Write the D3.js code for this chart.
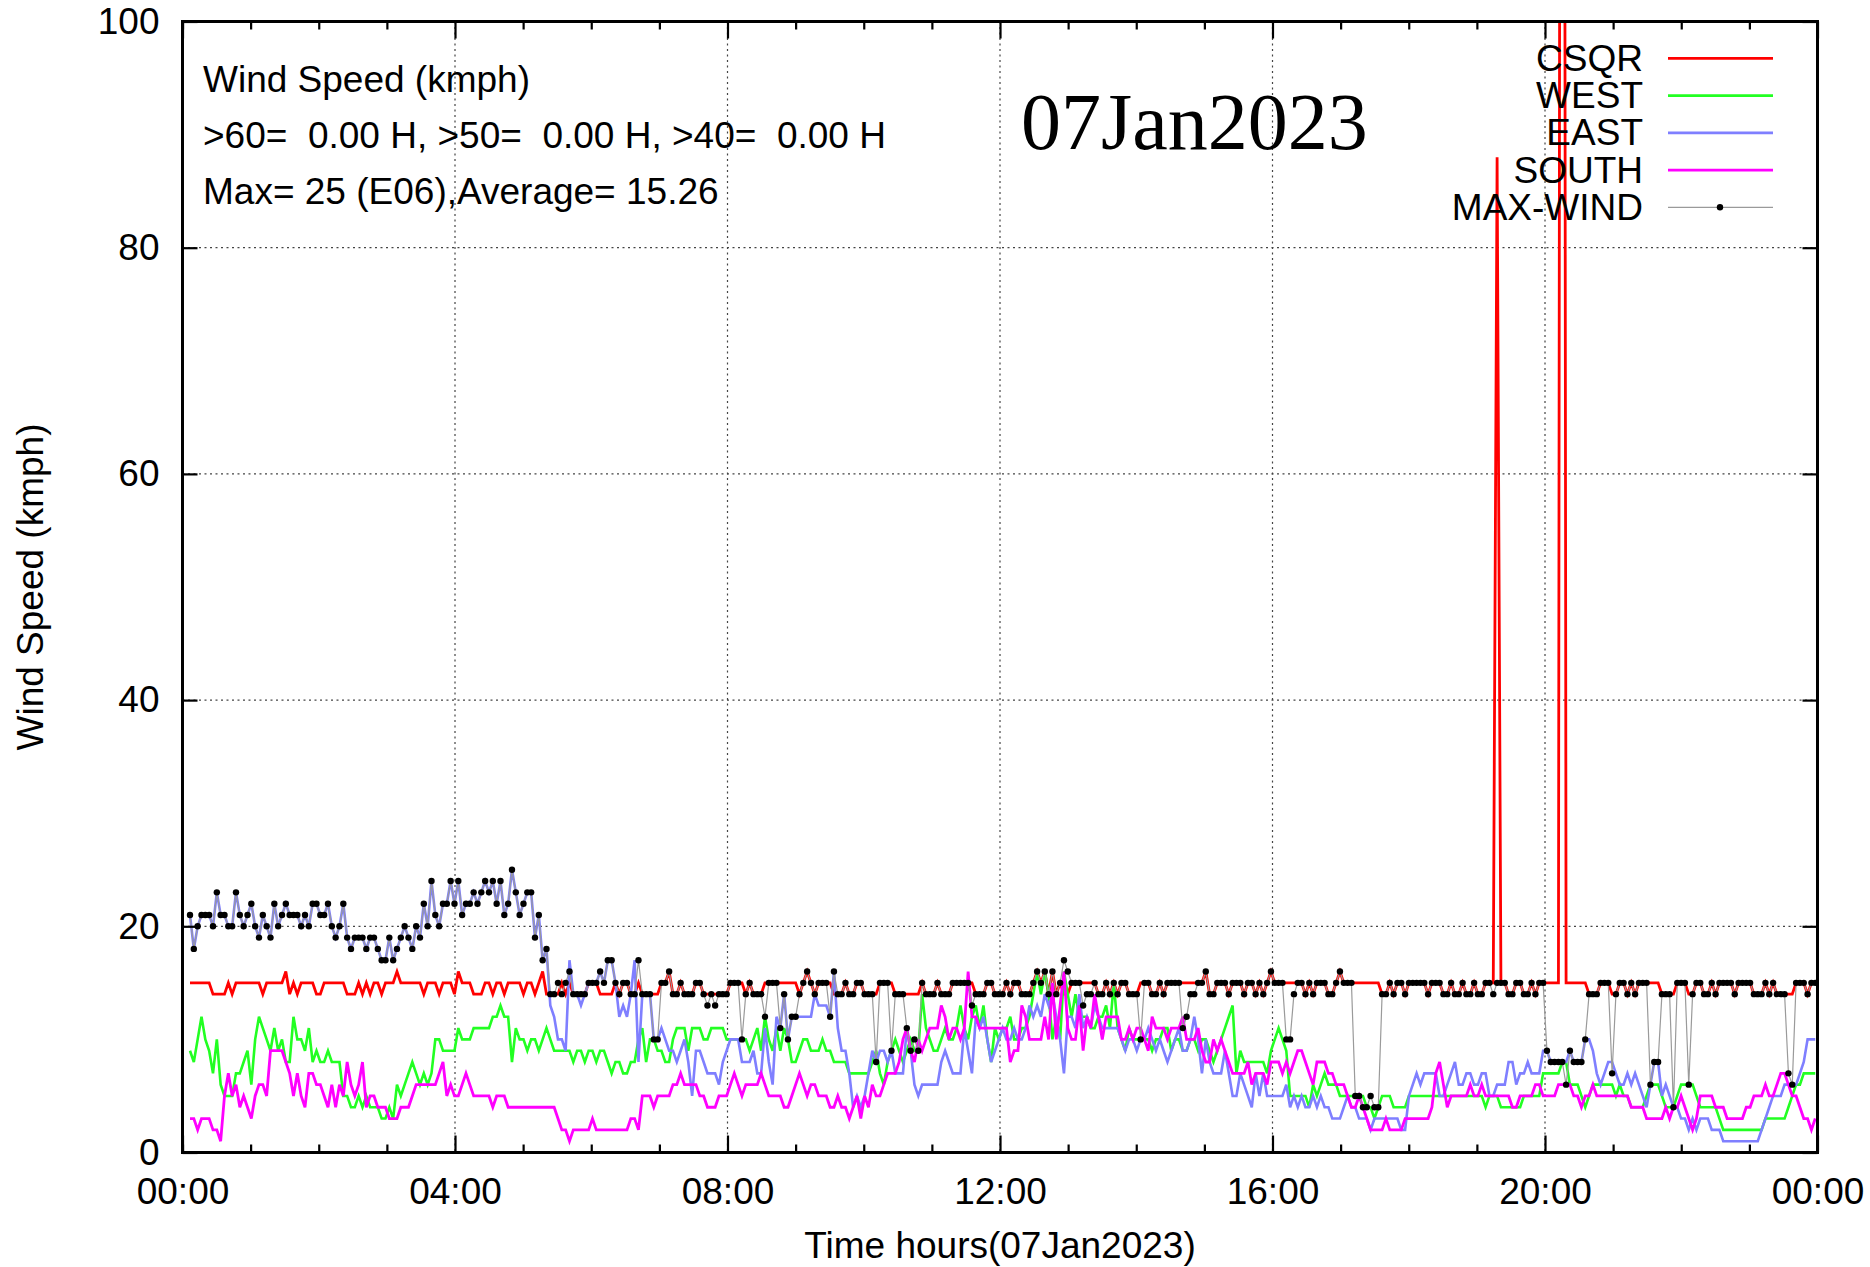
<!DOCTYPE html>
<html>
<head>
<meta charset="utf-8">
<title>Wind Speed 07Jan2023</title>
<script src="https://cdn.jsdelivr.net/npm/d3@7"></script>
<style>
    html, body { margin: 0; padding: 0; background: #fff; }
    svg { display: block; }
    text { font-family: 'Liberation Sans', Arial, Helvetica, sans-serif; fill: #000; }
</style>
</head>
<body>
<svg id="chart"></svg>
<script>
// samples are taken every ~3.4 minutes starting 00:06
const startMinute = 6.6;
const stepMinute = 3.376;

const seriesNames = ['CSQR', 'WEST', 'EAST', 'SOUTH', 'MAX-WIND'];

const csqr = [
    15,15,15,15,15,15,14,14,14,14, 15,14,15,15,15,15,15,15,15,14,
    15,15,15,15,15,16,14,15,14,15, 15,15,15,14,14,15,15,15,15,15,
    15,14,14,14,15,14,15,14,15,15, 14,15,15,15,16,15,15,15,15,15,
    15,14,15,15,15,14,15,15,15,14, 16,15,15,15,14,14,14,15,15,14,
    15,15,14,15,15,15,15,14,15,15, 14,15,16,14,14,14,14,15,14,15,
    14,14,14,14,15,15,15,14,14,14, 14,15,14,15,15,14,14,15,14,14,
    14,14,14,15,15,16,14,14,15,14, 14,14,15,15,14,14,14,14,14,14,
    14,15,15,15,15,14,15,14,14,14, 15,15,15,15,15,15,15,15,15,14,
    15,16,15,14,15,15,15,15,14,14, 14,15,14,14,15,15,14,14,14,14,
    15,15,15,15,14,14,14,14,14,14, 14,15,14,14,14,15,14,14,14,15,
    15,15,15,15,15,14,14,14,15,15, 14,14,14,15,14,15,15,14,14,14,
    15,16,15,16,14,16,14,15,14,14, 15,15,15,15,15,15,15,14,14,15,
    14,15,14,15,15,14,14,14,15,15, 15,14,14,15,14,15,15,15,15,15,
    15,15,15,15,15,16,14,14,15,15, 15,14,15,15,15,14,15,15,14,15,
    14,15,16,15,15,15,15,15,15,15, 15,14,15,14,15,15,15,14,14,15,
    16,15,15,15,15,15,15,15,15,15, 15,14,14,15,14,15,15,14,15,15,
    15,15,15,14,15,15,15,14,14,15, 14,14,15,14,14,15,14,14,15,15,
    15,88,15,15,14,14,15,15,14,14, 15,14,15,15,15,15,15,15,300,15,
    15,15,15,15,15,14,14,14,15,15, 15,14,14,15,15,14,15,14,15,15,
    15,15,15,15,14,14,14,14,15,15, 15,14,14,15,15,14,14,15,14,15,
    15,15,15,14,15,15,15,15,14,14, 14,15,14,15,14,14,14,14,14,15,
    15,15,14,15,15
];

const west = [
    9,8,10,12,10,9,7,10,6,5, 5,5,7,7,8,9,6,10,12,11,
    10,9,11,9,10,8,8,12,10,10, 9,11,8,9,8,8,9,8,8,8,
    5,5,4,4,5,4,5,4,4,4, 3,3,4,3,6,5,6,7,8,7,
    6,7,6,7,10,10,9,9,9,9, 11,10,10,10,11,11,11,11,11,12,
    12,13,12,12,8,11,10,10,9,10, 10,9,10,11,10,9,9,9,9,9,
    8,9,9,8,9,9,8,9,9,8, 7,8,8,7,7,8,8,10,11,8,
    10,10,9,9,8,8,10,11,11,11, 9,11,11,11,10,10,11,11,11,11,
    10,10,10,10,10,10,9,10,11,9, 12,10,9,11,9,11,10,8,8,9,
    10,10,9,9,9,10,9,9,8,8, 8,8,7,7,7,7,7,7,8,9,
    7,6,8,9,10,9,8,9,10,9, 9,14,11,10,9,9,10,11,10,10,
    11,13,11,10,12,13,11,13,10,8, 11,10,11,11,12,10,10,11,11,12,
    14,16,14,16,14,10,12,10,16,14, 12,14,12,12,12,11,11,12,12,13,
    11,15,11,10,9,11,10,10,10,10, 10,9,10,10,11,11,9,10,10,9,
    9,10,10,9,10,10,9,8,9,10, 11,12,13,7,9,8,8,8,8,8,
    8,7,9,10,11,10,9,5,5,5, 5,5,4,6,5,6,7,6,6,6,
    5,5,5,5,5,5,5,4,4,3, 4,5,5,5,4,4,4,4,5,5,
    5,5,5,5,5,5,5,5,5,5, 5,5,5,5,5,5,5,5,4,5,
    5,5,4,4,4,4,4,4,5,5, 5,5,5,7,7,7,7,7,8,8,
    6,6,6,5,4,5,6,6,6,6, 6,6,5,6,5,5,4,4,4,4,
    5,6,6,6,5,4,4,4,5,6, 6,6,6,5,4,4,4,4,4,3,
    2,2,2,2,2,2,2,2,2,2, 2,3,3,3,3,3,3,4,5,6,
    6,7,7,7,7
];

const east = [
    21,18,20,21,21,21,20,23,21,21, 20,20,23,21,20,21,22,20,19,21,
    20,19,22,20,21,22,21,21,21,20, 21,20,22,22,21,21,22,20,19,20,
    22,19,18,19,19,19,18,19,19,18, 17,17,19,17,18,19,20,19,18,20,
    19,22,20,24,21,20,22,22,24,22, 24,21,22,22,23,22,23,24,23,24,
    22,24,21,22,25,23,21,22,23,23, 19,21,17,18,13,12,10,10,9,17,
    14,14,13,14,15,15,15,16,15,17, 17,15,12,13,12,14,17,8,14,14,
    14,10,10,11,10,9,9,8,9,10, 8,5,9,9,8,7,7,7,6,8,
    9,10,10,10,8,8,8,9,7,7, 11,8,6,12,11,14,10,12,12,12,
    12,12,12,14,13,13,13,12,16,11, 9,9,7,4,5,4,5,7,9,8,
    9,9,8,9,7,7,7,11,9,6, 5,6,6,6,6,6,8,9,8,7,
    7,7,11,9,7,12,11,12,10,8, 9,10,11,10,10,11,10,10,11,13,
    12,13,12,14,13,14,12,10,7,12, 12,11,14,11,12,11,13,12,11,11,
    11,11,11,10,9,10,10,9,10,10, 11,10,9,10,9,8,9,10,11,9,
    9,10,12,10,7,10,8,7,7,7, 9,7,5,5,7,6,5,4,7,5,
    7,5,5,5,5,5,6,4,5,4, 5,4,4,5,4,5,4,4,3,3,
    3,4,5,4,4,3,3,3,2,3, 3,3,3,3,3,3,2,2,5,6,
    7,6,7,7,7,7,5,5,6,7, 8,6,6,7,7,6,6,7,7,5,
    5,6,6,6,8,8,6,7,7,8, 7,7,7,9,9,8,8,8,8,8,
    9,8,8,8,10,10,9,7,6,7, 8,8,7,6,6,7,6,7,6,5,
    4,6,8,8,5,6,5,4,4,3, 3,2,3,2,3,3,3,2,2,2,
    1,1,1,1,1,1,1,1,1,1, 2,3,4,5,5,5,6,6,6,6,
    7,8,10,10,10
];

const south = [
    3,3,2,3,3,3,2,2,1,5, 7,5,6,4,5,4,3,5,6,6,
    5,9,9,9,9,8,7,5,7,5, 4,7,7,6,6,5,4,6,4,6,
    5,8,6,5,6,8,4,5,5,4, 4,4,3,3,3,4,4,4,5,6,
    6,6,6,6,6,7,8,5,6,5, 5,6,7,6,5,5,5,5,5,4,
    5,5,5,4,4,4,4,4,4,4, 4,4,4,4,4,4,3,2,2,1,
    2,2,2,2,2,3,2,2,2,2, 2,2,2,2,2,3,3,2,5,5,
    5,4,5,5,5,5,6,6,7,6, 6,6,6,5,5,4,4,4,5,5,
    5,6,7,6,5,6,6,6,6,7, 6,5,5,5,5,4,4,5,6,7,
    6,5,6,6,5,5,5,4,4,5, 4,4,3,4,5,3,5,4,6,5,
    5,6,7,7,7,8,10,11,9,8, 10,9,10,11,11,11,13,12,10,11,
    11,10,11,16,12,12,11,11,11,11, 11,11,11,11,8,9,9,13,12,10,
    10,10,10,12,10,15,10,13,16,11, 10,10,13,9,12,11,14,12,10,12,
    12,12,12,10,10,11,10,11,11,10, 9,12,11,11,11,10,11,11,11,12,
    10,10,10,11,9,8,8,10,9,10, 9,8,7,7,7,7,8,6,7,7,
    7,6,8,8,8,7,8,7,8,9, 9,8,7,6,8,8,8,7,7,6,
    6,6,5,4,4,5,4,3,2,2, 2,2,3,2,2,2,2,3,3,3,
    3,3,3,3,4,7,8,6,4,5, 5,5,5,5,6,5,5,6,5,5,
    5,5,5,5,5,4,4,5,5,5, 5,6,6,5,5,5,5,6,6,6,
    6,5,5,4,5,5,6,5,5,5, 5,5,5,5,5,5,4,4,4,4,
    3,3,3,3,3,4,3,4,4,5, 4,3,2,3,5,5,5,5,4,4,
    4,3,3,3,3,3,4,4,5,5, 5,6,5,5,6,7,7,6,5,5,
    4,3,3,2,3
];

const maxWind = [
    21,18,20,21,21,21,20,23,21,21, 20,20,23,21,20,21,22,20,19,21,
    20,19,22,20,21,22,21,21,21,20, 21,20,22,22,21,21,22,20,19,20,
    22,19,18,19,19,19,18,19,19,18, 17,17,19,17,18,19,20,19,18,20,
    19,22,20,24,21,20,22,22,24,22, 24,21,22,22,23,22,23,24,23,24,
    22,24,21,22,25,23,21,22,23,23, 19,21,17,18,14,14,15,14,15,16,
    14,14,14,14,15,15,15,16,15,17, 17,15,14,15,15,14,14,17,14,14,
    14,10,10,15,15,16,14,14,15,14, 14,14,15,15,14,13,14,13,14,14,
    14,15,15,15,10,14,15,14,14,14, 12,15,15,15,11,14,10,12,12,14,
    15,16,15,14,15,15,15,12,16,14, 14,15,14,14,15,15,14,14,14,8,
    15,15,15,9,14,14,14,11,9,10, 9,15,14,14,14,15,14,14,14,15,
    15,15,15,15,13,14,14,14,15,15, 14,14,14,15,14,15,15,14,14,14,
    15,16,15,16,14,16,14,15,17,16, 15,15,15,13,14,14,15,14,14,15,
    14,15,14,15,15,14,14,14,10,15, 15,14,14,15,14,15,15,15,15,11,
    12,14,14,15,15,16,14,14,15,15, 15,14,15,15,15,14,15,15,14,15,
    14,15,16,15,15,15,10,10,14,15, 15,14,15,14,15,15,15,14,14,15,
    16,15,15,15,5,5,4,4,5,4, 4,14,14,15,14,15,15,14,15,15,
    15,15,15,14,15,15,15,14,14,15, 14,14,15,14,14,15,14,14,15,15,
    14,15,15,15,14,14,15,15,14,14, 15,14,15,15,9,8,8,8,8,6,
    9,8,8,8,10,14,14,14,15,15, 15,7,14,15,15,14,15,14,15,15,
    15,6,8,8,14,14,14,4,15,15, 15,6,14,15,15,14,14,15,14,15,
    15,15,15,14,15,15,15,15,14,14, 14,15,14,15,14,14,14,7,6,15,
    15,15,14,15,15
];

const minorHours = [0, 1, 2, 3, 5, 6, 7, 9, 10, 11, 13, 14, 15, 17, 18, 19, 21, 22, 23];
const majorHours = [0, 4, 8, 12, 16, 20, 24];
const yTickValues = [0, 20, 40, 60, 80, 100];

const infoLines = [
    'Wind Speed (kmph)',
    '>60=  0.00 H, >50=  0.00 H, >40=  0.00 H',
    'Max= 25 (E06),Average= 15.26'
];
const dateLabel = '07Jan2023';
const xTitle = 'Time hours(07Jan2023)';
const yTitle = 'Wind Speed (kmph)';

class WindChart {
    constructor() {
        this.width = 1870;
        this.height = 1267;
        this.margin = { top: 21.5, right: 52.5, bottom: 114.5, left: 182.5 };
        this.fontSize = 37;
        this.dotRadius = 3.2;
    }

    initialize() {
        this.innerW = this.width - this.margin.left - this.margin.right;
        this.innerH = this.height - this.margin.top - this.margin.bottom;

        this.svg = d3.select('#chart')
            .attr('width', this.width)
            .attr('height', this.height);

        this.g = this.svg.append('g')
            .attr('transform', `translate(${this.margin.left},${this.margin.top})`);

        this.x = d3.scaleLinear().domain([0, 1440]).range([0, this.innerW]);
        this.y = d3.scaleLinear().domain([0, 100]).range([this.innerH, 0]);

        this.times = csqr.map((d, i) => startMinute + i * stepMinute);

        this.svg.append('defs').append('clipPath')
            .attr('id', 'plot-clip')
            .append('rect')
            .attr('width', this.innerW)
            .attr('height', this.innerH);
    }

    drawGrid() {
        const grid = this.g.append('g')
            .attr('stroke', '#444')
            .attr('stroke-width', 1.2)
            .attr('stroke-dasharray', '2,3.5');

        grid.selectAll('.vgrid')
            .data(majorHours.slice(1, -1))
            .enter()
            .append('line')
            .attr('x1', (d) => this.x(d * 60))
            .attr('x2', (d) => this.x(d * 60))
            .attr('y1', 0)
            .attr('y2', this.innerH);

        grid.selectAll('.hgrid')
            .data(yTickValues.slice(1, -1))
            .enter()
            .append('line')
            .attr('x1', 0)
            .attr('x2', this.innerW)
            .attr('y1', (d) => this.y(d))
            .attr('y2', (d) => this.y(d));
    }

    drawSeries() {
        const plot = this.g.append('g').attr('clip-path', 'url(#plot-clip)');
        const line = d3.line()
            .x((d, i) => this.x(this.times[i]))
            .y((d) => this.y(d));

        const styles = [
            { data: csqr, color: '#ff0000', width: 2.8 },
            { data: west, color: '#22ff22', width: 2.6 },
            { data: east, color: '#7f7fff', width: 2.6 },
            { data: south, color: '#ff00ff', width: 2.8 }
        ];

        styles.forEach((s) => {
            plot.append('path')
                .datum(s.data)
                .attr('fill', 'none')
                .attr('stroke', s.color)
                .attr('stroke-width', s.width)
                .attr('d', line);
        });

        plot.append('path')
            .datum(maxWind)
            .attr('fill', 'none')
            .attr('stroke', '#9a9a9a')
            .attr('stroke-width', 1.2)
            .attr('d', line);

        plot.selectAll('.dot')
            .data(maxWind)
            .enter()
            .append('circle')
            .attr('class', 'dot')
            .attr('cx', (d, i) => this.x(this.times[i]))
            .attr('cy', (d) => this.y(d))
            .attr('r', this.dotRadius)
            .attr('fill', '#000');
    }

    styleAxis(sel) {
        sel.select('.domain').remove();
        sel.selectAll('line').attr('stroke', '#000').attr('stroke-width', 2.2);
        sel.selectAll('text')
            .attr('font-size', this.fontSize)
            .attr('font-family', "'Liberation Sans', Arial, sans-serif")
            .attr('fill', '#000');
    }

    drawAxes() {
        const hourLabel = (m) => (m / 60 === 24 ? '00:00' : d3.format('02d')(m / 60) + ':00');

        this.g.append('g')
            .attr('transform', `translate(0,${this.innerH})`)
            .call(d3.axisBottom(this.x).tickValues(minorHours.map((h) => h * 60)).tickSize(-8).tickFormat(''))
            .call((s) => this.styleAxis(s));

        this.g.append('g')
            .attr('transform', `translate(0,${this.innerH})`)
            .call(d3.axisBottom(this.x).tickValues(majorHours.map((h) => h * 60)).tickSize(-17).tickPadding(25).tickFormat(hourLabel))
            .call((s) => this.styleAxis(s));

        this.g.append('g')
            .call(d3.axisTop(this.x).tickValues(minorHours.map((h) => h * 60)).tickSize(-8).tickFormat(''))
            .call((s) => this.styleAxis(s));

        this.g.append('g')
            .call(d3.axisTop(this.x).tickValues(majorHours.map((h) => h * 60)).tickSize(-17).tickFormat(''))
            .call((s) => this.styleAxis(s));

        this.g.append('g')
            .call(d3.axisLeft(this.y).tickValues(yTickValues).tickSize(-15).tickPadding(23))
            .call((s) => this.styleAxis(s));

        this.g.append('g')
            .attr('transform', `translate(${this.innerW},0)`)
            .call(d3.axisRight(this.y).tickValues(yTickValues).tickSize(-15).tickFormat(''))
            .call((s) => this.styleAxis(s));

        this.g.append('rect')
            .attr('width', this.innerW)
            .attr('height', this.innerH)
            .attr('fill', 'none')
            .attr('stroke', '#000')
            .attr('stroke-width', 3);

        this.svg.append('text')
            .attr('x', this.margin.left + this.innerW / 2)
            .attr('y', 1258)
            .attr('text-anchor', 'middle')
            .attr('font-size', this.fontSize)
            .text(xTitle);

        this.svg.append('text')
            .attr('transform', `translate(43,${this.margin.top + this.innerH / 2}) rotate(-90)`)
            .attr('text-anchor', 'middle')
            .attr('font-size', this.fontSize)
            .text(yTitle);
    }

    drawText() {
        this.svg.selectAll('.info')
            .data(infoLines)
            .enter()
            .append('text')
            .attr('class', 'info')
            .attr('x', 203)
            .attr('y', (d, i) => 92 + i * 56)
            .attr('font-size', this.fontSize)
            .attr('xml:space', 'preserve')
            .style('white-space', 'pre')
            .text((d) => d);

        this.svg.append('text')
            .attr('x', 1021)
            .attr('y', 149)
            .attr('font-size', 80)
            .style('font-family', "'Liberation Serif', 'Times New Roman', serif")
            .text(dateLabel);
    }

    drawLegend() {
        const colors = ['#ff0000', '#22ff22', '#7f7fff', '#ff00ff', '#9a9a9a'];
        const rowY = (i) => 58.3 + i * 37.25;
        const legend = this.svg.append('g');

        const rows = legend.selectAll('.row')
            .data(seriesNames)
            .enter()
            .append('g')
            .attr('transform', (d, i) => `translate(0,${rowY(i)})`);

        rows.append('text')
            .attr('x', 1643)
            .attr('y', 12.5)
            .attr('text-anchor', 'end')
            .attr('font-size', this.fontSize)
            .text((d) => d);

        rows.append('line')
            .attr('x1', 1668)
            .attr('x2', 1773)
            .attr('stroke', (d, i) => colors[i])
            .attr('stroke-width', (d, i) => (i === 4 ? 1.2 : 2.8));

        legend.append('circle')
            .attr('cx', 1720)
            .attr('cy', rowY(4))
            .attr('r', this.dotRadius)
            .attr('fill', '#000');
    }
}

const chart = new WindChart();
chart.initialize();
chart.drawGrid();
chart.drawSeries();
chart.drawAxes();
chart.drawText();
chart.drawLegend();
</script>
</body>
</html>
